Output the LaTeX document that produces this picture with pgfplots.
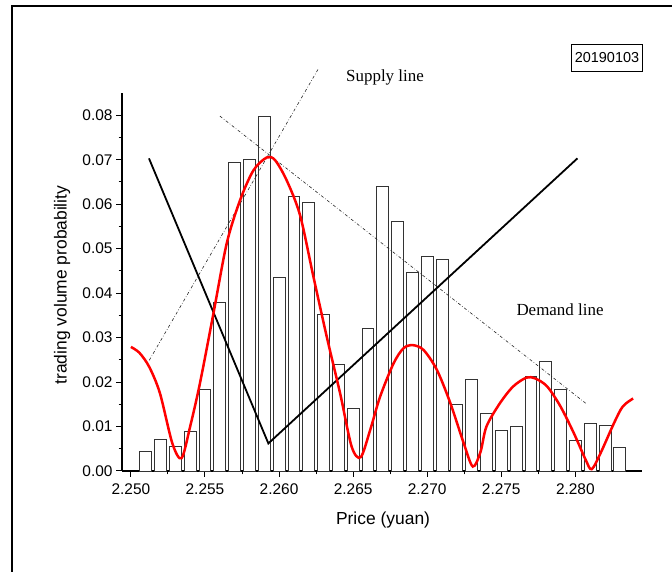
\documentclass[border=0pt]{standalone}
\usepackage{pgfplots}
\pgfplotsset{compat=1.18}
\usepackage{fontspec}
\setmainfont{Liberation Sans}
\newfontfamily\seriffont{Liberation Serif}
\begin{document}
\begin{tikzpicture}
\useasboundingbox (0bp,0bp) rectangle (672bp,572bp);
\draw[line width=2.2bp] (12bp,0bp) -- (12bp,566bp) -- (672bp,566bp);
\begin{axis}[
  at={(122bp,101bp)}, anchor=south west,
  scale only axis, width=520bp, height=378bp,
  xmin=2.2494, xmax=2.2845, ymin=0, ymax=0.085,
  axis x line*=bottom, axis y line*=left,
  axis line style={line width=1.3bp, -},
  xtick={2.250,2.255,2.260,2.265,2.270,2.275,2.280},
  ytick={0,0.01,0.02,0.03,0.04,0.05,0.06,0.07,0.08},
  scaled y ticks=false, scaled x ticks=false,
  minor x tick num=1, minor y tick num=1,
  tick align=outside, tick style={black, line width=1bp},
  major tick length=6bp, minor tick length=3.5bp,
  xticklabel style={/pgf/number format/fixed, /pgf/number format/fixed zerofill, /pgf/number format/precision=3, yshift=-3bp},
  yticklabel style={/pgf/number format/fixed, /pgf/number format/fixed zerofill, /pgf/number format/precision=2},
  /pgf/number format/assume math mode=true,
  tick label style={font=\fontsize{15.5}{17}\selectfont},
  xlabel={Price (yuan)}, ylabel={trading volume probability},
  label style={font=\fontsize{17.5}{20}\selectfont},
  xlabel style={at={(axis description cs:0.502,-0.13)}, anchor=center},
  ylabel style={at={(axis description cs:-0.115,0.492)}, anchor=center},
  clip=false,
]
\addplot[ybar, bar width=0.0008, draw=black!80, fill=white, line width=0.8bp] coordinates {
(2.251,0.0045) (2.252,0.0070) (2.253,0.0056) (2.254,0.0088) (2.255,0.0184)
(2.256,0.0380) (2.257,0.0695) (2.258,0.0701) (2.259,0.0798) (2.260,0.0436)
(2.261,0.0618) (2.262,0.0604) (2.263,0.0353) (2.264,0.0239) (2.265,0.0141)
(2.266,0.0321) (2.267,0.0641) (2.268,0.0562) (2.269,0.0446) (2.270,0.0482)
(2.271,0.0476) (2.272,0.0150) (2.273,0.0206) (2.274,0.0130) (2.275,0.0092)
(2.276,0.0101) (2.277,0.0212) (2.278,0.0247) (2.279,0.0184) (2.280,0.0068)
(2.281,0.0106) (2.282,0.0102) (2.283,0.0053)
};
\addplot[black!85, line width=0.6bp, dash dot, forget plot] coordinates {(2.25124,0.0249) (2.26268,0.0906)};
\addplot[black!85, line width=0.6bp, dash dot, forget plot] coordinates {(2.25601,0.0798) (2.28079,0.0150)};
\addplot[black, line width=1.8bp] coordinates {(2.25122,0.0703) (2.25928,0.0062) (2.28014,0.0703)};
\addplot[red, line width=2.5bp, smooth] coordinates {
(2.2500,0.0279) (2.25057,0.0266) (2.25124,0.0234) (2.25196,0.0175) (2.2528,0.0062)
(2.25342,0.0029) (2.2540,0.0100) (2.25466,0.0197) (2.25557,0.0354) (2.25647,0.0512)
(2.25737,0.0609) (2.25827,0.0676) (2.25917,0.0705) (2.25973,0.0699) (2.26051,0.0654)
(2.26142,0.0575) (2.26232,0.0437) (2.26322,0.0302) (2.26412,0.0175) (2.2649,0.0055)
(2.26551,0.0031) (2.26615,0.0092) (2.26682,0.0167) (2.26773,0.0242) (2.2684,0.0276)
(2.26903,0.0283) (2.26976,0.0272) (2.27066,0.0227) (2.27157,0.0152) (2.27247,0.0062)
(2.27308,0.0010) (2.2736,0.0043) (2.2740,0.0100) (2.2749,0.0152) (2.2758,0.0190)
(2.2767,0.0210) (2.2773,0.0208) (2.2781,0.0190) (2.2790,0.0145) (2.2799,0.0085)
(2.2807,0.0025) (2.2811,0.0004) (2.2817,0.0040) (2.2826,0.0107) (2.2832,0.0145)
(2.2839,0.0163)
};
\end{axis}
\node[font=\seriffont\fontsize{17}{20}\selectfont] at (385bp,495bp) {Supply line};
\node[font=\seriffont\fontsize{17}{20}\selectfont] at (560bp,262bp) {Demand line};
\node[draw, line width=0.8bp, inner xsep=3bp, minimum height=27bp, font=\fontsize{14.5}{16}\selectfont] at (607bp,514bp) {20190103};
\end{tikzpicture}
\end{document}
